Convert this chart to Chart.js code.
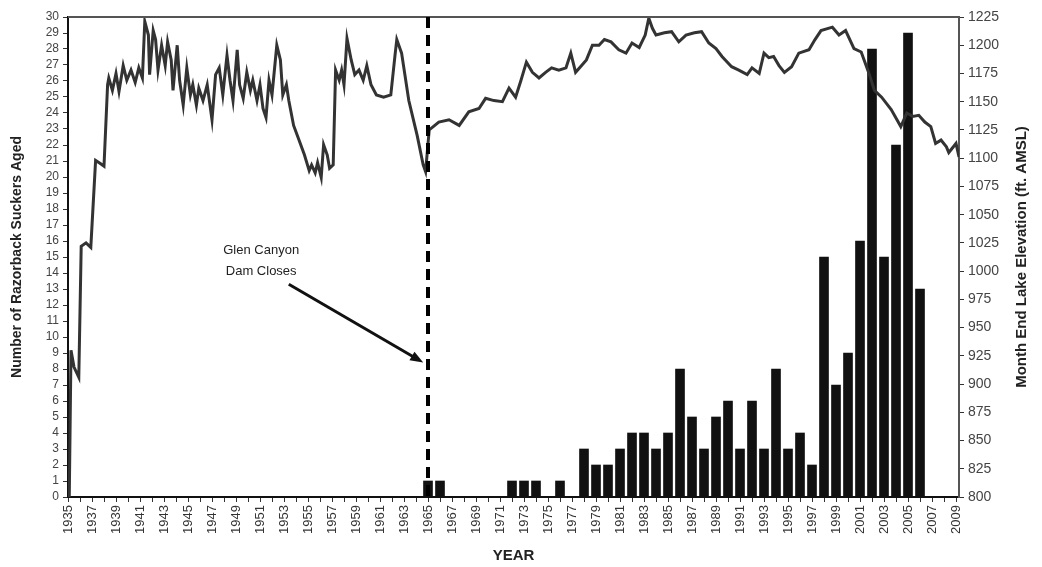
<!DOCTYPE html>
<html>
<head>
<meta charset="utf-8">
<script src="https://cdn.jsdelivr.net/npm/chart.js@4.4.1/dist/chart.umd.min.js"></script>
<style>
  html, body { margin: 0; padding: 0; background: #fff; }
  #wrap { width: 1042px; height: 567px; position: relative; }
</style>
</head>
<body>
<div id="wrap"><canvas id="grafico"></canvas></div>
<script>
// Razorback suckers aged, by year (only years that have fish)
const fishYears = [1965, 1966, 1972, 1973, 1974, 1976, 1978, 1979, 1980, 1981, 1982, 1983,
  1984, 1985, 1986, 1987, 1988, 1989, 1990, 1991, 1992, 1993, 1994, 1995, 1996, 1997,
  1998, 1999, 2000, 2001, 2002, 2003, 2004, 2005, 2006];
const fishAged = [1, 1, 1, 1, 1, 1, 3, 2, 2, 3, 4, 4,
  3, 4, 8, 5, 3, 5, 6, 3, 6, 3, 8, 3, 4, 2,
  15, 7, 9, 16, 28, 15, 22, 29, 13];

// Month end lake elevation (decimal year / ft AMSL)
const levelYears = [
  1935.10, 1935.25, 1935.50, 1935.90, 1936.10, 1936.50, 1936.90, 1937.30, 1937.60, 1938.00,
  1938.30, 1938.40, 1938.70, 1939.00, 1939.25, 1939.60, 1939.90, 1940.25, 1940.60, 1940.90,
  1941.20, 1941.40, 1941.70, 1941.80, 1942.10, 1942.30, 1942.50, 1942.80, 1943.10, 1943.30,
  1943.60, 1943.75, 1944.10, 1944.30, 1944.60, 1944.90, 1945.20, 1945.40, 1945.70, 1945.90,
  1946.25, 1946.60, 1947.00, 1947.30, 1947.60, 1947.90, 1948.25, 1948.50, 1948.75, 1949.10,
  1949.30, 1949.60, 1949.90, 1950.20, 1950.40, 1950.75, 1951.00, 1951.25, 1951.50, 1951.75,
  1952.00, 1952.40, 1952.70, 1952.90, 1953.20, 1953.40, 1953.80, 1954.25, 1954.70, 1955.10,
  1955.30, 1955.60, 1955.80, 1956.10, 1956.30, 1956.60, 1956.80, 1957.10, 1957.30, 1957.60,
  1957.80, 1958.00, 1958.25, 1958.60, 1958.90, 1959.25, 1959.60, 1959.90, 1960.25, 1960.70,
  1961.30, 1961.90, 1962.25, 1962.40, 1962.80, 1963.40, 1964.10, 1964.60, 1964.80, 1965.10,
  1965.90, 1966.75, 1967.60, 1968.40, 1969.25, 1969.80, 1970.50, 1971.20, 1971.75, 1972.30,
  1972.75, 1973.20, 1973.70, 1974.25, 1974.80, 1975.30, 1975.90, 1976.50, 1976.90, 1977.30,
  1977.80, 1978.20, 1978.70, 1979.25, 1979.70, 1980.25, 1980.90, 1981.50, 1982.00, 1982.60,
  1983.10, 1983.40, 1983.70, 1984.00, 1984.70, 1985.30, 1985.90, 1986.50, 1987.20, 1987.80,
  1988.40, 1989.00, 1989.50, 1990.30, 1990.90, 1991.60, 1992.00, 1992.60, 1993.00, 1993.40,
  1993.80, 1994.25, 1994.70, 1995.30, 1995.90, 1996.75, 1997.25, 1997.75, 1998.70, 1999.25,
  1999.80, 2000.50, 2001.10, 2001.75, 2002.20, 2002.80, 2003.60, 2004.40, 2004.90, 2005.40,
  2005.90, 2006.40, 2006.90, 2007.30, 2007.75, 2008.20, 2008.40, 2009.00, 2009.25
];
const lakeLevel = [
  795, 930, 915, 906, 1022, 1025, 1021, 1098, 1096, 1093,
  1165, 1171, 1160, 1175, 1159, 1182, 1169, 1178, 1167, 1180,
  1171, 1221, 1209, 1174, 1213, 1205, 1178, 1200, 1182, 1203,
  1187, 1160, 1200, 1169, 1147, 1180, 1156, 1165, 1147, 1162,
  1151, 1165, 1134, 1174, 1180, 1156, 1191, 1169, 1151, 1196,
  1165, 1153, 1176, 1160, 1169, 1151, 1165, 1144, 1136, 1169,
  1156, 1200, 1187, 1156, 1165, 1151, 1129, 1116, 1103, 1089,
  1094, 1087, 1096, 1083, 1112, 1103, 1091, 1094, 1178, 1169,
  1178, 1165, 1206, 1187, 1174, 1178, 1169, 1182, 1165, 1156,
  1154, 1156, 1191, 1205, 1193, 1151, 1120, 1094, 1088, 1125,
  1132, 1134, 1129, 1141, 1144, 1153, 1151, 1150, 1162, 1154,
  1169, 1185, 1176, 1171, 1176, 1180, 1178, 1180, 1193, 1176,
  1182, 1187, 1200, 1200, 1205, 1203, 1196, 1193, 1202, 1198,
  1209, 1224, 1215, 1209, 1211, 1212, 1203, 1209, 1211, 1212,
  1202, 1197, 1190, 1181, 1178, 1174, 1180, 1175, 1193, 1189,
  1190, 1182, 1176, 1181, 1193, 1196, 1205, 1213, 1216, 1209,
  1213, 1197, 1194, 1175, 1160, 1154, 1143, 1128, 1140, 1137,
  1138, 1132, 1128, 1113, 1116, 1110, 1105, 1113, 1101
];

// Dam closure marker and its note
const damYear = 1965;
const noteLines = ['Glen Canyon', 'Dam Closes'];

const font = '"Liberation Sans", Arial, sans-serif';

// Extra drawing: top frame, dashed dam line, note with arrow, right axis title
const extras = {
  id: 'extras',
  afterDatasetsDraw(chart) {
    const { ctx, chartArea: a, scales: { x, y, y2 } } = chart;
    ctx.save();

    ctx.strokeStyle = '#555';
    ctx.lineWidth = 2;
    ctx.beginPath();
    ctx.moveTo(a.left, a.top);
    ctx.lineTo(a.right, a.top);
    ctx.stroke();

    const xd = x.getPixelForValue(damYear);
    ctx.strokeStyle = '#000';
    ctx.lineWidth = 4;
    ctx.setLineDash([11, 7]);
    ctx.beginPath();
    ctx.moveTo(xd, a.top);
    ctx.lineTo(xd, a.bottom);
    ctx.stroke();
    ctx.setLineDash([]);

    ctx.fillStyle = '#222';
    ctx.font = '13px ' + font;
    ctx.textAlign = 'center';
    ctx.textBaseline = 'middle';
    const tx = x.getPixelForValue(1951.1);
    ctx.fillText(noteLines[0], tx, y.getPixelForValue(15.4));
    ctx.fillText(noteLines[1], tx, y.getPixelForValue(14.1));

    // arrow
    const x0 = x.getPixelForValue(1953.4), y0 = y.getPixelForValue(13.3);
    const x1 = x.getPixelForValue(1964.6), y1 = y.getPixelForValue(8.4);
    const ang = Math.atan2(y1 - y0, x1 - x0);
    ctx.strokeStyle = '#111';
    ctx.lineWidth = 3;
    ctx.beginPath();
    ctx.moveTo(x0, y0);
    ctx.lineTo(x1 - 8 * Math.cos(ang), y1 - 8 * Math.sin(ang));
    ctx.stroke();
    ctx.fillStyle = '#111';
    ctx.beginPath();
    ctx.moveTo(x1, y1);
    ctx.lineTo(x1 - 13 * Math.cos(ang) + 5 * Math.sin(ang), y1 - 13 * Math.sin(ang) - 5 * Math.cos(ang));
    ctx.lineTo(x1 - 13 * Math.cos(ang) - 5 * Math.sin(ang), y1 - 13 * Math.sin(ang) + 5 * Math.cos(ang));
    ctx.closePath();
    ctx.fill();

    // right axis title reads bottom to top
    ctx.translate(y2.right - 20, (a.top + a.bottom) / 2);
    ctx.rotate(-Math.PI / 2);
    ctx.fillStyle = '#222';
    ctx.font = 'bold 15px ' + font;
    ctx.fillText('Month End Lake Elevation (ft. AMSL)', 0, 0);
    ctx.restore();
  }
};

new Chart(document.getElementById('grafico'), {
  type: 'bar',
  data: {
    datasets: [
      {
        type: 'line',
        label: 'Month End Lake Elevation',
        data: levelYears.map((t, i) => ({ x: t, y: lakeLevel[i] })),
        yAxisID: 'y2',
        borderColor: '#333',
        borderWidth: 3,
        pointRadius: 0,
        tension: 0,
        order: 1
      },
      {
        type: 'bar',
        label: 'Razorback Suckers Aged',
        data: fishYears.map((t, i) => ({ x: t, y: fishAged[i] })),
        yAxisID: 'y',
        backgroundColor: '#111',
        barThickness: 9,
        order: 2
      }
    ]
  },
  options: {
    responsive: true,
    maintainAspectRatio: false,
    animation: false,
    layout: { padding: { top: 17, left: 0, right: 0, bottom: 0 } },
    plugins: { legend: { display: false }, tooltip: { enabled: false } },
    scales: {
      x: {
        type: 'linear',
        position: 'bottom',
        min: 1935,
        max: 2009.25,
        offset: false,
        grid: { offset: false, drawOnChartArea: false, tickLength: 5, tickColor: '#333' },
        border: { color: '#111', width: 2 },
        ticks: {
          stepSize: 1,
          autoSkip: false,
          includeBounds: false,
          minRotation: 90,
          maxRotation: 90,
          padding: 3,
          color: '#333',
          font: { family: font, size: 13 },
          callback: v => (Number.isInteger(v) && (v - 1935) % 2 === 0) ? String(v) : ''
        },
        title: { display: true, text: 'YEAR', color: '#222', font: { family: font, size: 15, weight: 'bold' }, padding: { top: 2, bottom: 2 } },
        afterFit: s => { s.height = 70; }
      },
      y: {
        position: 'left',
        min: 0,
        max: 30,
        grid: { drawOnChartArea: false, tickLength: 5, tickColor: '#333' },
        border: { color: '#111', width: 2 },
        ticks: { stepSize: 1, autoSkip: false, padding: 4, color: '#444', font: { family: font, size: 12 } },
        title: { display: true, text: 'Number of Razorback Suckers Aged', color: '#222', font: { family: font, size: 14, weight: 'bold' }, padding: { top: 9, bottom: 0 } },
        afterFit: s => { s.width = 68; }
      },
      y2: {
        position: 'right',
        min: 800,
        max: 1225,
        grid: { drawOnChartArea: false, tickLength: 5, tickColor: '#333' },
        border: { color: '#555', width: 2 },
        ticks: { stepSize: 25, autoSkip: false, padding: 4, color: '#444', font: { family: font, size: 14 }, callback: v => String(v) },
        afterFit: s => { s.width = 83; }
      }
    }
  },
  plugins: [extras]
});
</script>
</body>
</html>
